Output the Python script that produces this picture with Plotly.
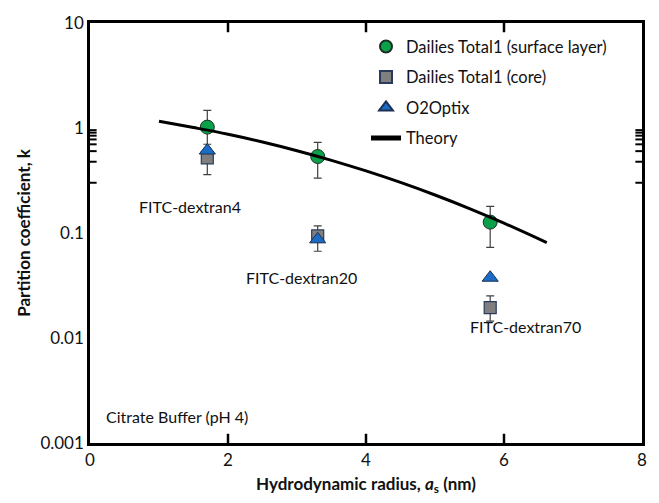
import math
import plotly.graph_objects as go

# data
radius = [1.7, 3.3, 5.8]
surface_k = [1.02, 0.535, 0.127]
surface_hi = [1.47, 0.73, 0.179]
surface_lo = [0.70, 0.333, 0.073]
core_k = [0.52, 0.094, 0.0195]
core_hi = [0.62, 0.117, 0.0252]
core_lo = [0.36, 0.067, 0.0145]
o2_k = [0.61, 0.087, 0.0375]
theory_x = [1.0, 1.5, 2.0, 2.5, 3.0, 3.5, 4.0, 4.5, 5.0, 5.5, 6.0, 6.62]
theory_k = [1.16, 1.01, 0.872, 0.736, 0.608, 0.492, 0.39, 0.303, 0.23, 0.171, 0.124, 0.081]
labels = ["FITC-dextran4", "FITC-dextran20", "FITC-dextran70", "Citrate Buffer (pH 4)"]
label_x = [1.45, 3.07, 6.31, 0.21]
label_y = [0.18, 0.038, 0.0129, 0.0018]
x_ticks = [0, 2, 4, 6, 8]
y_ticks = [0.001, 0.01, 0.1, 1, 10]
y_ticktext = ["0.001", "0.01", "0.1", "1", "10"]
y_minor = [m * d for d in [0.001, 0.01, 0.1, 1] for m in range(2, 10)]

FONT = "Lato"

fig = go.Figure()

fig.add_trace(go.Scatter(
    x=radius, y=surface_k, mode="markers", name="Dailies Total1 (surface layer)",
    legendgroup="a",
    marker=dict(symbol="circle", size=14, color="#0aa14a", line=dict(color="#1c2e24", width=1)),
    error_y=dict(type="data", symmetric=False,
                 array=[h - v for h, v in zip(surface_hi, surface_k)],
                 arrayminus=[v - l for v, l in zip(surface_k, surface_lo)],
                 color="#404040", thickness=1.2, width=4),
))
fig.add_trace(go.Scatter(
    x=radius, y=core_k, mode="markers", name="Dailies Total1 (core)",
    legendgroup="b",
    marker=dict(symbol="square", size=12, color="#7f7f7f", line=dict(color="#2b3b5c", width=1.2)),
    error_y=dict(type="data", symmetric=False,
                 array=[h - v for h, v in zip(core_hi, core_k)],
                 arrayminus=[v - l for v, l in zip(core_k, core_lo)],
                 color="#404040", thickness=1.2, width=4),
))
fig.add_trace(go.Scatter(
    x=radius, y=o2_k, mode="markers", name="O2Optix",
    legendgroup="c",
    marker=dict(symbol="triangle-up", size=14, color="#1a6cc4", line=dict(color="#1d2f52", width=1)),
))
fig.add_trace(go.Scatter(
    x=theory_x, y=theory_k, mode="lines", name="Theory",
    legendgroup="d",
    line=dict(color="black", width=3, shape="spline"),
))

for t, x, y in zip(labels, label_x, label_y):
    fig.add_annotation(x=x, y=math.log10(y), yref="y", xref="x", text=t, showarrow=False,
                       xanchor="left" if t.startswith("Citrate") else "center",
                       font=dict(family=FONT, size=16, color="#111"))

# inward tick marks on all four sides (placed at the axis tick values)
MAJ_X, MIN_X = 0.019, 0.012   # fraction of plot width
MAJ_Y = 0.022                  # fraction of plot height
for v in y_ticks[1:-1]:
    for a, b in [(0, MAJ_X), (1 - MAJ_X, 1)]:
        fig.add_shape(type="line", xref="x domain", yref="y", x0=a, x1=b,
                      y0=math.log10(v), y1=math.log10(v), line=dict(color="black", width=2.5))
for v in y_minor:
    for a, b in [(0, MIN_X), (1 - MIN_X, 1)]:
        fig.add_shape(type="line", xref="x domain", yref="y", x0=a, x1=b,
                      y0=math.log10(v), y1=math.log10(v), line=dict(color="black", width=2))
for v in x_ticks[1:-1]:
    for a, b in [(0, MAJ_Y), (1 - MAJ_Y, 1)]:
        fig.add_shape(type="line", xref="x", yref="y domain", x0=v, x1=v,
                      y0=a, y1=b, line=dict(color="black", width=2.5))

fig.update_layout(
    width=659, height=503, margin=dict(l=90, r=13, t=16, b=56),
    plot_bgcolor="white", paper_bgcolor="white",
    xaxis=dict(
        range=[0, 8], tickmode="array", tickvals=x_ticks, ticks="",
        showline=True, linewidth=2.5, linecolor="black", mirror=True,
        showgrid=False, zeroline=False,
        tickfont=dict(family=FONT, size=17, color="#111"),
        title=dict(text="<b>Hydrodynamic radius, <i>a</i><sub>s</sub> (nm)</b>",
                   font=dict(family=FONT, size=17, color="#111"), standoff=9),
    ),
    yaxis=dict(
        type="log", range=[-3, 1], tickmode="array", tickvals=y_ticks, ticktext=y_ticktext,
        ticks="",
        showline=True, linewidth=2.5, linecolor="black", mirror=True,
        showgrid=False, zeroline=False,
        tickfont=dict(family=FONT, size=17, color="#111"),
        title=dict(text="<b>Partition coefficient, k</b>",
                   font=dict(family=FONT, size=17, color="#111"), standoff=6),
    ),
    legend=dict(x=0.50, y=0.985, xanchor="left", yanchor="top", bgcolor="rgba(0,0,0,0)",
                font=dict(family=FONT, size=16.5, color="#111"), tracegroupgap=6,
                itemwidth=30, itemsizing="constant"),
    showlegend=True,
)

fig.write_html("out.html")
